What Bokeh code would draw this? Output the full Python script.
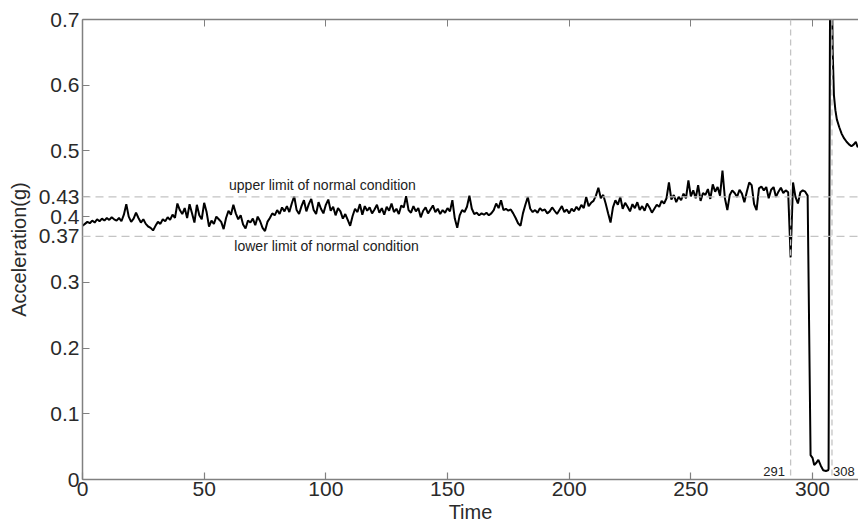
import math
from bokeh.plotting import figure
from bokeh.models import (Range1d, FixedTicker, LinearAxis, CustomJSTickFormatter,
                          Span, Label)
from bokeh.embed import file_html
from bokeh.resources import INLINE

# ---------------- data ----------------
main_values = [
    0.386, 0.389, 0.392, 0.390, 0.394, 0.391, 0.396, 0.393, 0.397, 0.394,
    0.398, 0.395, 0.399, 0.396, 0.394, 0.398, 0.393, 0.403, 0.419, 0.400,
    0.392, 0.397, 0.406, 0.398, 0.391, 0.396, 0.389, 0.385, 0.383, 0.379,
    0.386, 0.392, 0.389, 0.396, 0.393, 0.399, 0.395, 0.403, 0.398, 0.420,
    0.410, 0.404, 0.413, 0.398, 0.419, 0.405, 0.391, 0.418, 0.402, 0.396,
    0.421, 0.407, 0.385, 0.394, 0.389, 0.400, 0.396, 0.392, 0.381, 0.398,
    0.409, 0.403, 0.418, 0.405, 0.396, 0.402, 0.388, 0.382, 0.394, 0.391,
    0.397, 0.387, 0.400, 0.393, 0.383, 0.378, 0.392, 0.398, 0.405, 0.402,
    0.410, 0.404, 0.414, 0.408, 0.416, 0.407, 0.420, 0.431, 0.410, 0.404,
    0.416, 0.425, 0.408, 0.419, 0.427, 0.410, 0.404, 0.422, 0.412, 0.405,
    0.418, 0.426, 0.409, 0.415, 0.402, 0.413, 0.408, 0.397, 0.404, 0.395,
    0.386, 0.401, 0.412, 0.407, 0.419, 0.403, 0.416, 0.409, 0.414, 0.405,
    0.411, 0.418, 0.406, 0.413, 0.403, 0.415, 0.409, 0.420, 0.407, 0.412,
    0.404, 0.417, 0.414, 0.431, 0.410, 0.406, 0.416, 0.408, 0.413, 0.399,
    0.409, 0.414, 0.405, 0.411, 0.417, 0.407, 0.412, 0.404, 0.410, 0.406,
    0.413, 0.408, 0.425, 0.397, 0.383, 0.402, 0.410, 0.407, 0.415, 0.432,
    0.412, 0.404, 0.406, 0.402, 0.405, 0.403, 0.406, 0.402, 0.405, 0.410,
    0.420, 0.413, 0.425, 0.410, 0.412, 0.409, 0.411, 0.405, 0.398, 0.390,
    0.386, 0.405, 0.418, 0.430, 0.412, 0.407, 0.410, 0.406, 0.413, 0.409,
    0.411, 0.405, 0.408, 0.414, 0.409, 0.404, 0.410, 0.416, 0.407, 0.411,
    0.405, 0.412, 0.408, 0.415, 0.410, 0.418, 0.413, 0.430, 0.416, 0.421,
    0.424, 0.432, 0.444, 0.428, 0.433, 0.420, 0.405, 0.391, 0.414, 0.425,
    0.418, 0.430, 0.412, 0.421, 0.415, 0.408, 0.419, 0.413, 0.422, 0.410,
    0.416, 0.409, 0.420, 0.414, 0.406, 0.412, 0.418, 0.415, 0.424, 0.420,
    0.428, 0.452, 0.426, 0.433, 0.422, 0.430, 0.425, 0.435, 0.428, 0.455,
    0.431, 0.440, 0.428, 0.448, 0.424, 0.436, 0.433, 0.442, 0.427, 0.449,
    0.438, 0.445, 0.432, 0.470, 0.428, 0.410, 0.433, 0.440, 0.436, 0.430,
    0.441, 0.435, 0.422, 0.438, 0.452, 0.448, 0.419, 0.410, 0.443, 0.446,
    0.440, 0.445, 0.428, 0.441, 0.445, 0.430, 0.438, 0.444, 0.436, 0.440,
    0.437, 0.338, 0.452, 0.430, 0.420, 0.437, 0.440, 0.438, 0.432,
]
main_times = list(range(len(main_values)))

tail_times = [299.2, 300.0, 300.7, 301.5, 302.4, 303.4, 304.4, 305.5, 306.4, 306.6,
              307.4, 308.3, 308.8, 309.4, 310.0, 311.0, 312.0, 313.0, 314.0,
              315.0, 316.0, 317.0, 317.8, 318.5, 319.5]
tail_values = [0.037, 0.033, 0.022, 0.025, 0.030, 0.021, 0.014, 0.013, 0.014, 0.016,
               0.950, 0.650, 0.585, 0.562, 0.548, 0.536, 0.526, 0.519, 0.514,
               0.510, 0.507, 0.510, 0.514, 0.506, 0.509]

times = main_times + tail_times
accel = main_values + tail_values

upper_limit = 0.43
lower_limit = 0.37
event_times = [291, 308]
y_ticks = [0, 0.1, 0.2, 0.3, 0.37, 0.4, 0.43, 0.5, 0.6, 0.7]
x_ticks = [0, 50, 100, 150, 200, 250, 300]

# ---------------- figure ----------------
FONT = "Liberation Sans"
p = figure(width=858, height=527, output_backend="svg", toolbar_location=None,
           x_range=Range1d(0, 318.9), y_range=Range1d(0, 0.7),
           min_border_left=82, min_border_right=0, min_border_top=19,
           min_border_bottom=48, background_fill_color="white",
           border_fill_color="white", outline_line_color=None)
p.xgrid.visible = False
p.ygrid.visible = False

fmt = CustomJSTickFormatter(code="return (Math.round(tick*100)/100).toString();")

for ax in (p.xaxis[0], p.yaxis[0]):
    ax.axis_line_color = "#808080"
    ax.axis_line_width = 1.5
    ax.major_tick_line_color = "#808080"
    ax.major_tick_line_width = 1.2
    ax.major_tick_in = 7
    ax.major_tick_out = 0
    ax.minor_tick_line_color = None
    ax.major_label_text_font = FONT
    ax.major_label_text_font_size = "21px"
    ax.major_label_text_color = "#2a2a2a"
    ax.formatter = fmt
    ax.axis_label_text_font = FONT
    ax.axis_label_text_font_size = "20px"
    ax.axis_label_text_font_style = "normal"
    ax.axis_label_text_color = "#2a2a2a"

p.xaxis[0].ticker = FixedTicker(ticks=x_ticks)
p.yaxis[0].ticker = FixedTicker(ticks=y_ticks)
p.xaxis[0].major_label_standoff = 2
p.yaxis[0].major_label_standoff = 3
p.xaxis[0].axis_label = "Time"
p.xaxis[0].axis_label_standoff = 2
p.yaxis[0].axis_label = "Acceleration(g)"
p.yaxis[0].axis_label_standoff = 6

top = LinearAxis(ticker=FixedTicker(ticks=x_ticks), axis_line_color="#808080",
                 axis_line_width=1.5, major_tick_line_color="#808080",
                 major_tick_in=7, major_tick_out=0, minor_tick_line_color=None,
                 formatter=CustomJSTickFormatter(code="return '';"),
                 major_label_standoff=0)
p.add_layout(top, "above")

dash_color = "#c4c4c4"
for lim in (upper_limit, lower_limit):
    p.add_layout(Span(location=lim, dimension="width", line_color=dash_color,
                      line_width=1.3, line_dash="8 5"))
for et in event_times:
    p.add_layout(Span(location=et, dimension="height", line_color=dash_color,
                      line_width=1.3, line_dash="6 4"))

p.line(times, accel, line_color="black", line_width=2)

# annotations
p.add_layout(Label(x=98.6, y=0.4475, text="upper limit of normal condition",
                   text_font=FONT, text_font_size="14px", text_color="#222222",
                   text_align="center", text_baseline="middle"))
p.add_layout(Label(x=100.3, y=0.3546, text="lower limit of normal condition",
                   text_font=FONT, text_font_size="14px", text_color="#222222",
                   text_align="center", text_baseline="middle"))
p.add_layout(Label(x=event_times[0] - 2.3, y=0.005, text=str(event_times[0]),
                   text_font=FONT, text_font_size="13px", text_color="#222222",
                   text_align="right", text_baseline="bottom"))
p.add_layout(Label(x=event_times[1] + 0.4, y=0.005, text=str(event_times[1]),
                   text_font=FONT, text_font_size="13px", text_color="#222222",
                   text_align="left", text_baseline="bottom"))

open("out.html", "w").write(file_html(p, INLINE))
